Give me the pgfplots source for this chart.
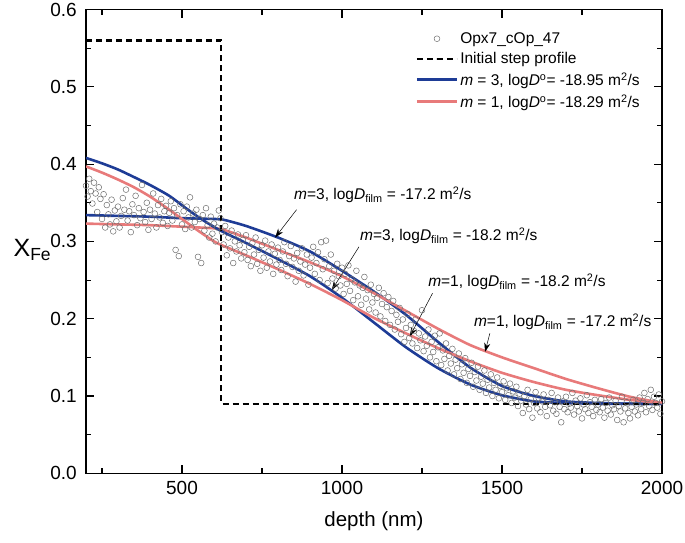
\documentclass[border=0pt]{standalone}
\usepackage{fontspec}
\setmainfont{Liberation Sans}
\usepackage{pgfplots}
\pgfplotsset{compat=1.18}
\usetikzlibrary{arrows.meta}
\definecolor{cblue}{RGB}{30,60,150}
\definecolor{cred}{RGB}{232,122,122}
\definecolor{cgray}{RGB}{110,110,110}
\newcommand{\annfont}{\fontsize{15.5}{18}\selectfont}
\begin{document}
\begin{tikzpicture}
\useasboundingbox (0,0) rectangle (685pt,542pt);
\begin{axis}[
  at={(86pt,68.7pt)}, anchor=south west,
  scale only axis, width=576pt, height=463.8pt,
  xmin=200, xmax=2000, ymin=0, ymax=0.6,
  xtick={500,1000,1500,2000}, minor xtick={250,750,1250,1750},
  ytick={0,0.1,0.2,0.3,0.4,0.5,0.6}, minor ytick={0.05,0.15,0.25,0.35,0.45,0.55},
  tick align=inside,
  major tick length=8pt, minor tick length=5pt,
  axis line style={line width=1.3pt},
  tick style={line width=1.1pt, black},
  /pgf/number format/assume math mode=true,
  yticklabel={\pgfmathprintnumber[fixed,fixed zerofill,precision=1]{\tick}},
  xticklabel={\pgfmathprintnumber[1000 sep={}]{\tick}},
  tick label style={font=\fontsize{19}{22}\selectfont},
  yticklabel style={anchor=east, inner sep=0pt, xshift=-9pt},
  xticklabel style={anchor=north, inner sep=0pt, yshift=-8pt},
  xlabel={depth (nm)},
  xlabel style={at={(axis description cs:0.5,-0.103)}, anchor=center, font=\fontsize{20.5}{24}\selectfont},
  ylabel={X\textsubscript{Fe}},
  ylabel style={at={(axis description cs:-0.093,0.481)}, anchor=center, rotate=-90, font=\fontsize{25}{28}\selectfont},
  legend style={at={(axis description cs:0.572,0.955)}, anchor=north west, draw=none, fill=none,
    font=\annfont, row sep=3.5pt, inner sep=0pt},
  legend cell align=left,
  legend image code/.code={\draw[mark repeat=2,mark phase=2,#1] plot coordinates {(0pt,0pt) (20pt,0pt) (40pt,0pt)};},
]
% measured profile
\addplot[only marks, mark=o, mark size=2.9pt, color=cgray, mark options={line width=0.5pt}] table[row sep=\\] {
x y\\
200 0.372\\ 205 0.358\\ 210 0.381\\ 215 0.365\\ 220 0.349\\ 225 0.376\\ 230 0.362\\ 235 0.338\\ 240 0.370\\ 245 0.355\\
250 0.329\\ 255 0.361\\ 260 0.318\\ 265 0.347\\ 270 0.335\\ 275 0.322\\ 280 0.354\\ 285 0.313\\ 290 0.340\\ 295 0.326\\
300 0.345\\ 305 0.318\\ 310 0.333\\ 315 0.356\\ 320 0.341\\ 325 0.367\\ 330 0.327\\ 335 0.339\\ 340 0.312\\ 345 0.348\\
350 0.334\\ 355 0.359\\ 360 0.321\\ 365 0.343\\ 370 0.330\\ 375 0.373\\ 380 0.338\\ 385 0.325\\ 390 0.350\\ 395 0.315\\
400 0.341\\ 405 0.329\\ 410 0.362\\ 415 0.336\\ 420 0.318\\ 425 0.347\\ 430 0.331\\ 435 0.355\\ 440 0.324\\ 445 0.339\\
450 0.346\\ 455 0.320\\ 460 0.337\\ 465 0.352\\ 470 0.327\\ 475 0.343\\ 480 0.289\\ 485 0.334\\ 490 0.281\\ 495 0.348\\
500 0.322\\ 505 0.339\\ 510 0.316\\ 515 0.345\\ 520 0.331\\ 525 0.357\\ 530 0.318\\ 535 0.336\\ 540 0.325\\ 545 0.341\\
550 0.280\\ 555 0.329\\ 560 0.272\\ 565 0.334\\ 570 0.314\\ 575 0.343\\ 580 0.321\\ 585 0.305\\ 590 0.332\\ 595 0.310\\
600 0.323\\ 605 0.300\\ 610 0.318\\ 615 0.340\\ 620 0.330\\ 625 0.312\\ 630 0.296\\ 635 0.320\\ 640 0.282\\ 645 0.305\\
650 0.291\\ 655 0.314\\ 660 0.272\\ 665 0.300\\ 670 0.287\\ 675 0.309\\ 680 0.295\\ 685 0.278\\ 690 0.302\\ 695 0.286\\
700 0.308\\ 705 0.276\\ 710 0.293\\ 715 0.268\\ 720 0.298\\ 725 0.283\\ 730 0.305\\ 735 0.271\\ 740 0.289\\ 745 0.262\\
750 0.295\\ 755 0.279\\ 760 0.301\\ 765 0.266\\ 770 0.287\\ 775 0.274\\ 780 0.296\\ 785 0.258\\ 790 0.284\\ 795 0.270\\
800 0.292\\ 805 0.276\\ 810 0.263\\ 815 0.287\\ 820 0.299\\ 825 0.271\\ 830 0.255\\ 835 0.281\\ 840 0.294\\ 845 0.267\\
850 0.278\\ 855 0.248\\ 860 0.285\\ 865 0.262\\ 870 0.274\\ 875 0.291\\ 880 0.256\\ 885 0.270\\ 890 0.283\\ 895 0.244\\
900 0.266\\ 905 0.279\\ 910 0.293\\ 915 0.258\\ 920 0.272\\ 925 0.286\\ 930 0.250\\ 935 0.299\\ 940 0.264\\ 945 0.277\\
950 0.301\\ 955 0.246\\ 960 0.268\\ 965 0.283\\ 970 0.252\\ 975 0.262\\ 980 0.239\\ 985 0.271\\ 990 0.255\\ 995 0.243\\
1000 0.266\\ 1005 0.232\\ 1010 0.258\\ 1015 0.245\\ 1020 0.269\\ 1025 0.236\\ 1030 0.251\\ 1035 0.224\\ 1040 0.247\\ 1045 0.262\\
1050 0.229\\ 1055 0.243\\ 1060 0.218\\ 1065 0.240\\ 1070 0.254\\ 1075 0.226\\ 1080 0.237\\ 1085 0.212\\ 1090 0.244\\ 1095 0.221\\
1100 0.232\\ 1105 0.208\\ 1110 0.227\\ 1115 0.240\\ 1120 0.203\\ 1125 0.219\\ 1130 0.233\\ 1135 0.197\\ 1140 0.215\\ 1145 0.228\\
1150 0.192\\ 1155 0.210\\ 1160 0.223\\ 1165 0.186\\ 1170 0.205\\ 1175 0.196\\ 1180 0.214\\ 1185 0.180\\ 1190 0.199\\ 1195 0.170\\
1200 0.188\\ 1205 0.206\\ 1210 0.175\\ 1215 0.192\\ 1220 0.168\\ 1225 0.184\\ 1230 0.199\\ 1235 0.162\\ 1240 0.181\\ 1245 0.172\\
1250 0.211\\ 1255 0.158\\ 1260 0.177\\ 1265 0.165\\ 1270 0.186\\ 1275 0.150\\ 1280 0.170\\ 1285 0.157\\ 1290 0.178\\ 1295 0.145\\
1300 0.163\\ 1305 0.181\\ 1310 0.140\\ 1315 0.159\\ 1320 0.148\\ 1325 0.168\\ 1330 0.133\\ 1335 0.152\\ 1340 0.142\\ 1345 0.161\\
1350 0.128\\ 1355 0.147\\ 1360 0.136\\ 1365 0.155\\ 1370 0.122\\ 1375 0.141\\ 1380 0.130\\ 1385 0.149\\ 1390 0.117\\ 1395 0.135\\
1400 0.126\\ 1405 0.143\\ 1410 0.112\\ 1415 0.131\\ 1420 0.120\\ 1425 0.138\\ 1430 0.108\\ 1435 0.125\\ 1440 0.116\\ 1445 0.133\\
1450 0.104\\ 1455 0.121\\ 1460 0.111\\ 1465 0.128\\ 1470 0.100\\ 1475 0.117\\ 1480 0.108\\ 1485 0.124\\ 1490 0.097\\ 1495 0.113\\
1500 0.105\\ 1505 0.119\\ 1510 0.095\\ 1515 0.110\\ 1520 0.101\\ 1525 0.116\\ 1530 0.091\\ 1535 0.106\\ 1540 0.098\\ 1545 0.112\\
1550 0.087\\ 1555 0.103\\ 1560 0.094\\ 1565 0.078\\ 1570 0.100\\ 1575 0.089\\ 1580 0.108\\ 1585 0.083\\ 1590 0.096\\ 1595 0.072\\
1600 0.091\\ 1605 0.105\\ 1610 0.084\\ 1615 0.097\\ 1620 0.079\\ 1625 0.093\\ 1630 0.102\\ 1635 0.086\\ 1640 0.074\\ 1645 0.095\\
1650 0.088\\ 1655 0.104\\ 1660 0.081\\ 1665 0.092\\ 1670 0.077\\ 1675 0.098\\ 1680 0.086\\ 1685 0.066\\ 1690 0.093\\ 1695 0.083\\
1700 0.099\\ 1705 0.079\\ 1710 0.090\\ 1715 0.085\\ 1720 0.104\\ 1725 0.076\\ 1730 0.094\\ 1735 0.087\\ 1740 0.080\\ 1745 0.097\\
1750 0.071\\ 1755 0.089\\ 1760 0.083\\ 1765 0.101\\ 1770 0.078\\ 1775 0.092\\ 1780 0.086\\ 1785 0.074\\ 1790 0.095\\ 1795 0.082\\
1800 0.089\\ 1805 0.079\\ 1810 0.096\\ 1815 0.085\\ 1820 0.072\\ 1825 0.091\\ 1830 0.081\\ 1835 0.098\\ 1840 0.076\\ 1845 0.088\\
1850 0.083\\ 1855 0.094\\ 1860 0.069\\ 1865 0.087\\ 1870 0.080\\ 1875 0.099\\ 1880 0.066\\ 1885 0.084\\ 1890 0.092\\ 1895 0.078\\
1900 0.071\\ 1905 0.086\\ 1910 0.095\\ 1915 0.080\\ 1920 0.089\\ 1925 0.075\\ 1930 0.098\\ 1935 0.083\\ 1940 0.091\\ 1945 0.104\\
1950 0.079\\ 1955 0.096\\ 1960 0.087\\ 1965 0.108\\ 1970 0.082\\ 1975 0.099\\ 1980 0.091\\ 1985 0.085\\ 1990 0.102\\ 1995 0.077\\
2000 0.093\\
};
\addlegendentry{Opx7\_cOp\_47}
\addlegendimage{black, line width=2.2pt, dash pattern=on 6pt off 4pt}
\addlegendentry{Initial step profile}
% m=3, logDfilm=-17.2
\addplot[cblue, line width=2.6pt, smooth, tension=0.4] coordinates {
(200,0.334) (300,0.333) (400,0.332) (500,0.330) (600,0.329) (630,0.328) (700,0.320) (800,0.305) (900,0.287) (1000,0.262) (1100,0.235) (1200,0.205) (1300,0.170) (1400,0.137) (1500,0.113) (1600,0.100) (1700,0.093) (1800,0.091) (1900,0.090) (2000,0.090)
};
\addlegendentry{\textit{m} = 3, log\textit{D}\textsuperscript{o}= -18.95 m\textsuperscript{2}/s}
% m=1, logDfilm=-17.2
\addplot[cred, line width=2.6pt, smooth, tension=0.4] coordinates {
(200,0.323) (300,0.322) (400,0.321) (500,0.319) (600,0.317) (630,0.315) (700,0.305) (800,0.289) (900,0.273) (1000,0.255) (1100,0.233) (1200,0.210) (1300,0.187) (1400,0.166) (1500,0.150) (1600,0.136) (1700,0.122) (1800,0.110) (1900,0.099) (2000,0.091)
};
\addlegendentry{\textit{m} = 1, log\textit{D}\textsuperscript{o}= -18.29 m\textsuperscript{2}/s}
% m=3, logDfilm=-18.2
\addplot[cblue, line width=2.6pt, smooth, tension=0.4, forget plot] coordinates {
(200,0.408) (250,0.401) (300,0.393) (356,0.382) (400,0.373) (460,0.359) (512,0.343) (560,0.329) (620,0.314) (700,0.298) (800,0.277) (900,0.255) (1000,0.227) (1100,0.195) (1200,0.163) (1300,0.136) (1400,0.115) (1500,0.101) (1600,0.093) (1700,0.091) (1800,0.090) (2000,0.090)
};
% m=1, logDfilm=-18.2
\addplot[cred, line width=2.6pt, smooth, tension=0.4, forget plot] coordinates {
(200,0.397) (250,0.389) (300,0.380) (350,0.370) (400,0.358) (450,0.344) (500,0.329) (550,0.314) (600,0.300) (625,0.295) (700,0.282) (800,0.264) (900,0.245) (1000,0.224) (1100,0.201) (1200,0.181) (1300,0.162) (1400,0.145) (1500,0.130) (1600,0.118) (1700,0.108) (1800,0.101) (1900,0.095) (2000,0.091)
};
% initial step profile
\addplot[black, line width=2.2pt, dash pattern=on 6pt off 4pt, forget plot] coordinates {
(200,0.56) (622,0.56) (622,0.09) (2000,0.09)
};
% annotations
\node[anchor=west, font=\annfont, inner sep=0pt] at (axis cs:850,0.360) {\textit{m}=3, log\textit{D}\textsubscript{film} = -17.2 m\textsuperscript{2}/s};
\draw[line width=0.5pt, -{Stealth[length=9pt,width=6pt]}] (axis cs:858,0.341) -- (axis cs:791,0.305);
\node[anchor=west, font=\annfont, inner sep=0pt] at (axis cs:1056,0.307) {\textit{m}=3, log\textit{D}\textsubscript{film} = -18.2 m\textsuperscript{2}/s};
\draw[line width=0.5pt, -{Stealth[length=9pt,width=6pt]}] (axis cs:1053,0.293) -- (axis cs:968,0.237);
\node[anchor=west, font=\annfont, inner sep=0pt] at (axis cs:1269,0.2475) {\textit{m}=1, log\textit{D}\textsubscript{film} = -18.2 m\textsuperscript{2}/s};
\draw[line width=0.5pt, -{Stealth[length=9pt,width=6pt]}] (axis cs:1283,0.233) -- (axis cs:1212,0.177);
\node[anchor=west, font=\annfont, inner sep=0pt] at (axis cs:1412,0.1957) {\textit{m}=1, log\textit{D}\textsubscript{film} = -17.2 m\textsuperscript{2}/s};
\draw[line width=0.5pt, -{Stealth[length=9pt,width=6pt]}] (axis cs:1462,0.181) -- (axis cs:1447,0.157);
\end{axis}
\end{tikzpicture}
\end{document}
